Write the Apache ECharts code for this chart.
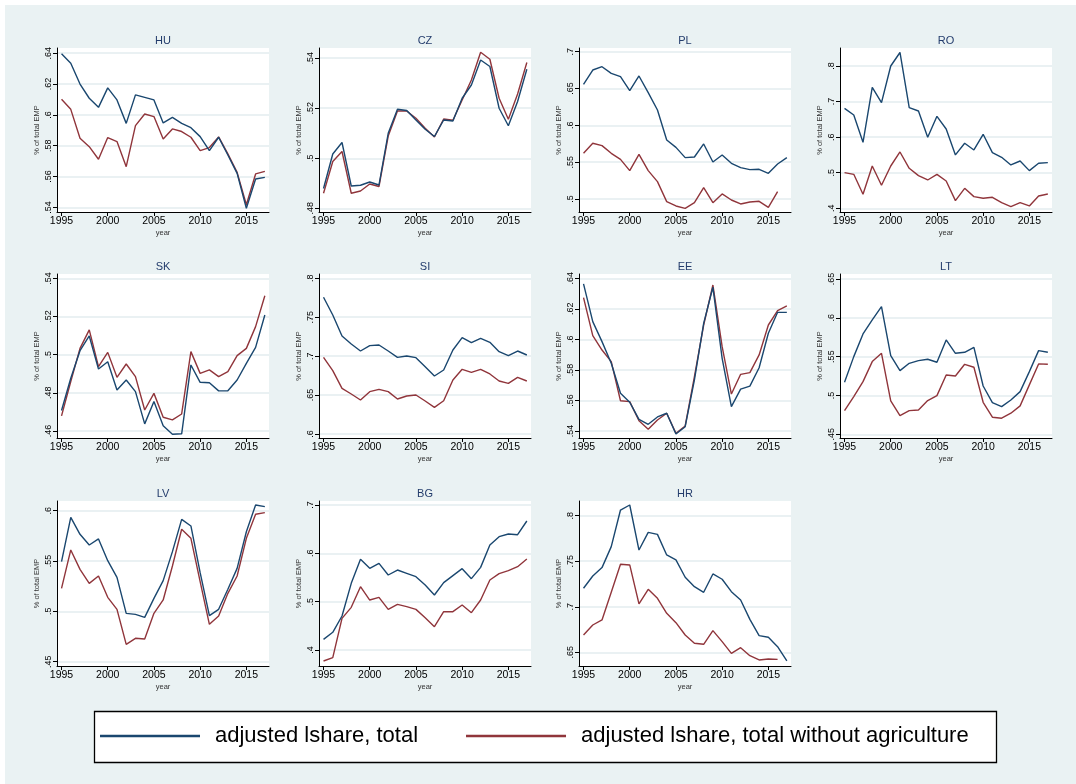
<!DOCTYPE html>
<html><head><meta charset="utf-8">
<script src="https://cdn.jsdelivr.net/npm/echarts@6/dist/echarts.min.js"></script>
<style>
html,body{margin:0;padding:0;background:#fff;}
#bg{position:absolute;left:5px;top:5px;width:1071px;height:779px;background:#eaf2f3;}
#c{position:absolute;left:0;top:0;width:1076px;height:784px;}
</style>
</head><body><div id="bg"></div><div id="c"></div>
<script>
const years = [1995,1996,1997,1998,1999,2000,2001,2002,2003,2004,2005,2006,2007,2008,2009,2010,2011,2012,2013,2014,2015,2016,2017];
const xTicks = [1995,2000,2005,2010,2015];
const countries = ['HU','CZ','PL','RO','SK','SI','EE','LT','LV','BG','HR'];
const seriesNames = ['adjusted lshare, total','adjusted lshare, total without agriculture'];

const HU_total = [.6396,.6335,.620,.6108,.6049,.6175,.6097,.5945,.613,.6114,.6097,.5948,.5984,.5945,.5917,.5859,.5768,.5855,.574,.5621,.5394,.5584,.5595];
const HU_noagr = [.6101,.6036,.5848,.5794,.5712,.5853,.5827,.5664,.593,.6006,.5989,.5844,.5909,.5892,.5855,.5768,.5788,.5857,.5747,.5627,.5417,.5617,.5634];
const CZ_total = [.4879,.5017,.5063,.4889,.4892,.4905,.4893,.510,.5196,.5191,.5153,.5116,.5087,.5153,.5149,.524,.5293,.5393,.5367,.52,.513,.5227,.5356];
const CZ_noagr = [.486,.4987,.5027,.486,.4869,.4897,.4887,.5089,.5189,.5189,.516,.512,.5085,.5157,.5152,.5233,.5313,.5424,.5396,.524,.5156,.5257,.5383];
const PL_total = [.6557,.6751,.6796,.6706,.6661,.6471,.667,.6443,.6208,.5801,.5701,.5561,.557,.5747,.5502,.5597,.5484,.5425,.5398,.5403,.5348,.5475,.5561];
const PL_noagr = [.562,.5756,.5724,.562,.5538,.5385,.5606,.5385,.5235,.4964,.4905,.4873,.495,.5154,.495,.5068,.4986,.4932,.4959,.4968,.4887,.51,null];
const RO_total = [.681,.6623,.5855,.74,.697,.8,.838,.683,.6735,.5996,.6585,.623,.55,.5827,.564,.608,.5564,.5433,.5218,.533,.5059,.5265,.5283];
const RO_noagr = [.5002,.4955,.4393,.5189,.4646,.5189,.5583,.5124,.4918,.4796,.4955,.4768,.4215,.4562,.4328,.4281,.4309,.4159,.4047,.4159,.4066,.4347,.4403];
const SK_total = [.4707,.4876,.5021,.5098,.4925,.4963,.4815,.4867,.4806,.4637,.4754,.4627,.4583,.4585,.4946,.4855,.4853,.481,.4811,.4867,.4954,.5038,.5208];
const SK_noagr = [.4679,.4859,.5033,.513,.4937,.5012,.4881,.4951,.4885,.471,.4797,.4672,.4658,.4689,.5016,.4902,.492,.4885,.4911,.4995,.5033,.5147,.5309];
const SI_total = [.7756,.7529,.7259,.7156,.7066,.7135,.7143,.7066,.6985,.7002,.6981,.6865,.6745,.6822,.7079,.7238,.7173,.7229,.7178,.7058,.7006,.7066,.7015];
const SI_noagr = [.6985,.6814,.6587,.6514,.6437,.6544,.6574,.6544,.645,.6488,.6501,.6424,.6343,.6428,.6694,.6831,.6792,.6831,.6771,.6681,.6651,.6728,.6681];
const EE_total = [.6363,.6116,.5985,.5843,.5647,.5588,.5476,.5444,.5492,.5516,.538,.5428,.5734,.6105,.6341,.5876,.5559,.5674,.5694,.5814,.604,.6177,.6177];
const EE_noagr = [.6273,.6024,.593,.5854,.5598,.5592,.5467,.5411,.5472,.5516,.5385,.5433,.5756,.6094,.6356,.5952,.5642,.5771,.5782,.5898,.6094,.6188,.6219];
const LT_total = [.517,.55,.5792,.5972,.6144,.5513,.532,.5414,.5449,.5466,.5427,.5715,.5543,.5556,.562,.5122,.4908,.4856,.4942,.5049,.5307,.5577,.5556];
const LT_noagr = [.4805,.4985,.5178,.5436,.5543,.493,.4741,.4805,.4813,.4934,.4998,.5264,.5251,.5401,.5363,.4912,.472,.4707,.4771,.4866,.5136,.5406,.5401];
const LV_total = [.5493,.5934,.5765,.5659,.5719,.5503,.5338,.498,.497,.494,.5129,.5305,.5593,.5914,.5848,.5384,.4957,.502,.5219,.5427,.5791,.6056,.604];
const LV_noagr = [.5228,.561,.5417,.5278,.5351,.5139,.502,.4672,.4732,.4725,.498,.5113,.545,.5815,.5725,.5295,.4871,.4954,.5179,.5351,.5725,.5964,.598];
const BG_total = [.4221,.4366,.4703,.5379,.5876,.569,.5793,.5552,.5655,.5586,.5517,.5345,.5138,.5393,.5538,.5683,.5476,.571,.6172,.6345,.64,.6386,.6669];
const BG_noagr = [.3772,.3841,.4655,.4883,.531,.5034,.509,.4841,.4945,.4897,.4841,.4669,.4483,.4793,.4793,.4931,.4772,.5034,.5448,.5579,.5641,.5724,.5883];
const HR_total = [.7203,.7338,.743,.766,.8062,.8117,.7623,.7817,.7795,.7569,.7514,.7324,.7221,.7159,.736,.7302,.7166,.7075,.6862,.6683,.6665,.6562,.6405];
const HR_noagr = [.669,.68,.6855,.7159,.7466,.7459,.7031,.7192,.7093,.6928,.6826,.669,.6599,.6588,.6738,.6617,.6489,.6551,.6463,.6416,.6427,.6423,null];

const HU_ticks = [.54,.56,.58,.60,.62,.64];
const CZ_ticks = [.48,.50,.52,.54];
const PL_ticks = [.5,.55,.6,.65,.7];
const RO_ticks = [.4,.5,.6,.7,.8];
const SK_ticks = [.46,.48,.50,.52,.54];
const SI_ticks = [.6,.65,.7,.75,.8];
const EE_ticks = [.54,.56,.58,.60,.62,.64];
const LT_ticks = [.45,.5,.55,.6,.65];
const LV_ticks = [.45,.5,.55,.6];
const BG_ticks = [.4,.5,.6,.7];
const HR_ticks = [.65,.7,.75,.8];

const totals = [HU_total,CZ_total,PL_total,RO_total,SK_total,SI_total,EE_total,LT_total,LV_total,BG_total,HR_total];
const noagrs = [HU_noagr,CZ_noagr,PL_noagr,RO_noagr,SK_noagr,SI_noagr,EE_noagr,LT_noagr,LV_noagr,BG_noagr,HR_noagr];
const ticks = [HU_ticks,CZ_ticks,PL_ticks,RO_ticks,SK_ticks,SI_ticks,EE_ticks,LT_ticks,LV_ticks,BG_ticks,HR_ticks];

// layout (axis extents include the plot-region margin)
const yExtent = [[.537,.6434],[.4785,.5441],[.4823,.705],[.3896,.8506],[.4563,.5423],[.5949,.8055],[.5354,.6428],[.4452,.6564],[.4457,.6096],[.3669,.7083],[.635,.8161]];
const xExtent = [1994.51, 2017.45];
const colLeft = [57,319,579,840];
const rowTop = [48,274,501];
const rowH = [164,164,165];
const gridW = 212;
const FONT = "'Liberation Sans', Arial, sans-serif";
const BLUE = '#1a476f', RED = '#90353b';

const fmt = v => String(+(+v).toFixed(3)).replace(/^0\./, '.');

const grids=[], xAxes=[], yAxes=[], series=[], titles=[];
countries.forEach((c,i)=>{
  const col=i%4, row=Math.floor(i/4);
  grids.push({left:colLeft[col], top:rowTop[row], width:gridW, height:rowH[row], show:true, backgroundColor:'#ffffff', borderWidth:0});
  titles.push({text:c, left:colLeft[col]+gridW/2, top:rowTop[row]-13, textAlign:'center', padding:0,
    textStyle:{fontSize:11, fontWeight:'normal', color:'#233c6c', fontFamily:FONT}});
  xAxes.push({type:'value', gridIndex:i, min:xExtent[0], max:xExtent[1],
    axisLine:{show:true, onZero:false, lineStyle:{color:'#000', width:1}},
    axisTick:{show:true, customValues:xTicks, length:4, lineStyle:{color:'#000', width:1}},
    axisLabel:{customValues:xTicks, fontSize:10.5, color:'#000', margin:4, fontFamily:FONT, formatter:v=>String(Math.round(v))},
    splitLine:{show:false},
    name:'year', nameLocation:'middle', nameGap:17, nameTextStyle:{fontSize:7.5, color:'#333', fontFamily:FONT}});
  yAxes.push({type:'value', gridIndex:i, min:yExtent[i][0], max:yExtent[i][1],
    axisLine:{show:true, onZero:false, lineStyle:{color:'#000', width:1}},
    axisTick:{show:true, customValues:ticks[i], length:4, lineStyle:{color:'#000', width:1}},
    axisLabel:{customValues:ticks[i], rotate:90, fontSize:9, color:'#000', margin:4, fontFamily:FONT, formatter:fmt},
    splitLine:{show:true, lineStyle:{color:'#e3ecef', width:1.5}},
    name:'% of total EMP', nameLocation:'middle', nameGap:16, nameRotate:90,
    nameTextStyle:{fontSize:7.5, color:'#333', fontFamily:FONT}});
  [totals[i], noagrs[i]].forEach((arr,k)=>{
    series.push({type:'line', name:seriesNames[k], xAxisIndex:i, yAxisIndex:i, showSymbol:false, symbol:'none',
      lineStyle:{color:k?RED:BLUE, width:1.4}, itemStyle:{color:k?RED:BLUE}, z:k?3:4,
      data: years.map((y,j)=>arr[j]==null?null:[y,arr[j]]).filter(d=>d)});
  });
});

const chart = echarts.init(document.getElementById('c'), null, {renderer:'canvas'});
chart.setOption({
  animation:false,
  backgroundColor:'transparent',
  title:titles,
  grid:grids, xAxis:xAxes, yAxis:yAxes, series:series,
  legend:{data:seriesNames, left:100, top:725, padding:0, icon:'rect', itemWidth:100, itemHeight:2.5, itemGap:48,
    selectedMode:false, z:20,
    textStyle:{fontSize:22, color:'#000', fontFamily:FONT, padding:[0,0,0,10]}},
  graphic:[{type:'rect', z:1, shape:{x:94.5, y:711.5, width:902, height:51}, style:{fill:'#fff', stroke:'#000', lineWidth:1.3}}]
});
</script></body></html>
